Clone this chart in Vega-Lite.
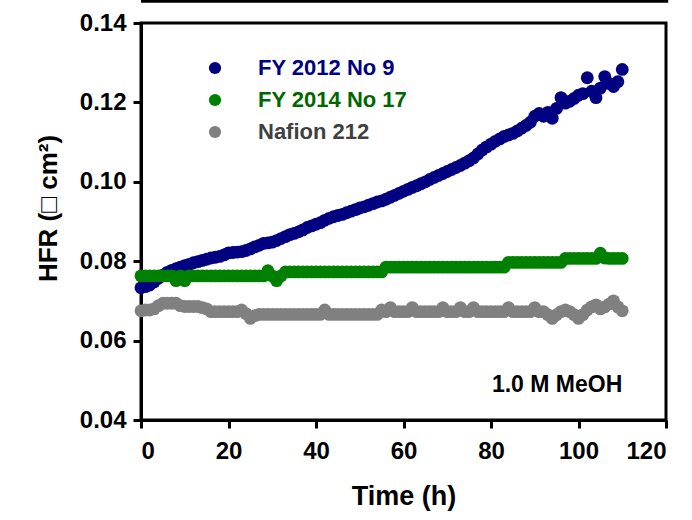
{
  "$schema": "https://vega.github.io/schema/vega-lite/v6.json",
  "width": 525,
  "height": 397,
  "autosize": {"type": "none"},
  "padding": {"left": 141, "top": 23, "right": 26, "bottom": 100},
  "background": "white",
  "config": {
    "font": "Liberation Sans",
    "view": {"stroke": "black", "strokeWidth": 3},
    "axis": {
      "grid": false,
      "domainColor": "black",
      "domainWidth": 3,
      "tickColor": "black",
      "tickWidth": 3,
      "tickSize": 8,
      "labelFont": "Liberation Sans",
      "labelFontSize": 24,
      "labelFontWeight": "bold",
      "labelColor": "black",
      "titleFont": "Liberation Sans",
      "titleFontSize": 26,
      "titleFontWeight": "bold",
      "titleColor": "black"
    }
  },
  "data": {
    "values": [
      {"t": 0, "FY 2012 No 9": 0.0733, "FY 2014 No 17": 0.0763, "Nafion 212": 0.0675},
      {"t": 1, "FY 2012 No 9": 0.0736, "FY 2014 No 17": 0.0763, "Nafion 212": 0.0677},
      {"t": 2, "FY 2012 No 9": 0.0740, "FY 2014 No 17": 0.0763, "Nafion 212": 0.0677},
      {"t": 3, "FY 2012 No 9": 0.0748, "FY 2014 No 17": 0.0763, "Nafion 212": 0.0680},
      {"t": 4, "FY 2012 No 9": 0.0757, "FY 2014 No 17": 0.0763, "Nafion 212": 0.0688},
      {"t": 5, "FY 2012 No 9": 0.0765, "FY 2014 No 17": 0.0763, "Nafion 212": 0.0694},
      {"t": 6, "FY 2012 No 9": 0.0772, "FY 2014 No 17": 0.0763, "Nafion 212": 0.0694},
      {"t": 7, "FY 2012 No 9": 0.0777, "FY 2014 No 17": 0.0763, "Nafion 212": 0.0694},
      {"t": 8, "FY 2012 No 9": 0.0781, "FY 2014 No 17": 0.0751, "Nafion 212": 0.0694},
      {"t": 9, "FY 2012 No 9": 0.0785, "FY 2014 No 17": 0.0763, "Nafion 212": 0.0688},
      {"t": 10, "FY 2012 No 9": 0.0789, "FY 2014 No 17": 0.0751, "Nafion 212": 0.0686},
      {"t": 11, "FY 2012 No 9": 0.0792, "FY 2014 No 17": 0.0763, "Nafion 212": 0.0686},
      {"t": 12, "FY 2012 No 9": 0.0796, "FY 2014 No 17": 0.0763, "Nafion 212": 0.0686},
      {"t": 13, "FY 2012 No 9": 0.0799, "FY 2014 No 17": 0.0763, "Nafion 212": 0.0686},
      {"t": 14, "FY 2012 No 9": 0.0802, "FY 2014 No 17": 0.0763, "Nafion 212": 0.0683},
      {"t": 15, "FY 2012 No 9": 0.0805, "FY 2014 No 17": 0.0763, "Nafion 212": 0.0680},
      {"t": 16, "FY 2012 No 9": 0.0808, "FY 2014 No 17": 0.0763, "Nafion 212": 0.0673},
      {"t": 17, "FY 2012 No 9": 0.0810, "FY 2014 No 17": 0.0763, "Nafion 212": 0.0673},
      {"t": 18, "FY 2012 No 9": 0.0812, "FY 2014 No 17": 0.0763, "Nafion 212": 0.0673},
      {"t": 19, "FY 2012 No 9": 0.0816, "FY 2014 No 17": 0.0763, "Nafion 212": 0.0673},
      {"t": 20, "FY 2012 No 9": 0.0821, "FY 2014 No 17": 0.0763, "Nafion 212": 0.0673},
      {"t": 21, "FY 2012 No 9": 0.0822, "FY 2014 No 17": 0.0763, "Nafion 212": 0.0673},
      {"t": 22, "FY 2012 No 9": 0.0823, "FY 2014 No 17": 0.0763, "Nafion 212": 0.0673},
      {"t": 23, "FY 2012 No 9": 0.0824, "FY 2014 No 17": 0.0763, "Nafion 212": 0.0677},
      {"t": 24, "FY 2012 No 9": 0.0827, "FY 2014 No 17": 0.0763, "Nafion 212": 0.0668},
      {"t": 25, "FY 2012 No 9": 0.0831, "FY 2014 No 17": 0.0763, "Nafion 212": 0.0656},
      {"t": 26, "FY 2012 No 9": 0.0836, "FY 2014 No 17": 0.0763, "Nafion 212": 0.0663},
      {"t": 27, "FY 2012 No 9": 0.0840, "FY 2014 No 17": 0.0763, "Nafion 212": 0.0666},
      {"t": 28, "FY 2012 No 9": 0.0845, "FY 2014 No 17": 0.0763, "Nafion 212": 0.0666},
      {"t": 29, "FY 2012 No 9": 0.0846, "FY 2014 No 17": 0.0776, "Nafion 212": 0.0666},
      {"t": 30, "FY 2012 No 9": 0.0848, "FY 2014 No 17": 0.0763, "Nafion 212": 0.0666},
      {"t": 31, "FY 2012 No 9": 0.0852, "FY 2014 No 17": 0.0751, "Nafion 212": 0.0666},
      {"t": 32, "FY 2012 No 9": 0.0857, "FY 2014 No 17": 0.0763, "Nafion 212": 0.0666},
      {"t": 33, "FY 2012 No 9": 0.0862, "FY 2014 No 17": 0.0773, "Nafion 212": 0.0666},
      {"t": 34, "FY 2012 No 9": 0.0867, "FY 2014 No 17": 0.0773, "Nafion 212": 0.0666},
      {"t": 35, "FY 2012 No 9": 0.0870, "FY 2014 No 17": 0.0773, "Nafion 212": 0.0666},
      {"t": 36, "FY 2012 No 9": 0.0874, "FY 2014 No 17": 0.0773, "Nafion 212": 0.0666},
      {"t": 37, "FY 2012 No 9": 0.0879, "FY 2014 No 17": 0.0773, "Nafion 212": 0.0666},
      {"t": 38, "FY 2012 No 9": 0.0885, "FY 2014 No 17": 0.0773, "Nafion 212": 0.0666},
      {"t": 39, "FY 2012 No 9": 0.0889, "FY 2014 No 17": 0.0773, "Nafion 212": 0.0666},
      {"t": 40, "FY 2012 No 9": 0.0893, "FY 2014 No 17": 0.0773, "Nafion 212": 0.0666},
      {"t": 41, "FY 2012 No 9": 0.0897, "FY 2014 No 17": 0.0773, "Nafion 212": 0.0666},
      {"t": 42, "FY 2012 No 9": 0.0903, "FY 2014 No 17": 0.0773, "Nafion 212": 0.0677},
      {"t": 43, "FY 2012 No 9": 0.0908, "FY 2014 No 17": 0.0773, "Nafion 212": 0.0666},
      {"t": 44, "FY 2012 No 9": 0.0912, "FY 2014 No 17": 0.0773, "Nafion 212": 0.0666},
      {"t": 45, "FY 2012 No 9": 0.0915, "FY 2014 No 17": 0.0773, "Nafion 212": 0.0666},
      {"t": 46, "FY 2012 No 9": 0.0918, "FY 2014 No 17": 0.0773, "Nafion 212": 0.0666},
      {"t": 47, "FY 2012 No 9": 0.0922, "FY 2014 No 17": 0.0773, "Nafion 212": 0.0666},
      {"t": 48, "FY 2012 No 9": 0.0926, "FY 2014 No 17": 0.0773, "Nafion 212": 0.0666},
      {"t": 49, "FY 2012 No 9": 0.0930, "FY 2014 No 17": 0.0773, "Nafion 212": 0.0666},
      {"t": 50, "FY 2012 No 9": 0.0934, "FY 2014 No 17": 0.0773, "Nafion 212": 0.0666},
      {"t": 51, "FY 2012 No 9": 0.0937, "FY 2014 No 17": 0.0773, "Nafion 212": 0.0666},
      {"t": 52, "FY 2012 No 9": 0.0941, "FY 2014 No 17": 0.0773, "Nafion 212": 0.0666},
      {"t": 53, "FY 2012 No 9": 0.0945, "FY 2014 No 17": 0.0773, "Nafion 212": 0.0666},
      {"t": 54, "FY 2012 No 9": 0.0949, "FY 2014 No 17": 0.0773, "Nafion 212": 0.0666},
      {"t": 55, "FY 2012 No 9": 0.0952, "FY 2014 No 17": 0.0773, "Nafion 212": 0.0677},
      {"t": 56, "FY 2012 No 9": 0.0956, "FY 2014 No 17": 0.0785, "Nafion 212": 0.0673},
      {"t": 57, "FY 2012 No 9": 0.0961, "FY 2014 No 17": 0.0785, "Nafion 212": 0.0683},
      {"t": 58, "FY 2012 No 9": 0.0966, "FY 2014 No 17": 0.0785, "Nafion 212": 0.0673},
      {"t": 59, "FY 2012 No 9": 0.0971, "FY 2014 No 17": 0.0785, "Nafion 212": 0.0673},
      {"t": 60, "FY 2012 No 9": 0.0976, "FY 2014 No 17": 0.0785, "Nafion 212": 0.0673},
      {"t": 61, "FY 2012 No 9": 0.0981, "FY 2014 No 17": 0.0785, "Nafion 212": 0.0673},
      {"t": 62, "FY 2012 No 9": 0.0986, "FY 2014 No 17": 0.0785, "Nafion 212": 0.0683},
      {"t": 63, "FY 2012 No 9": 0.0990, "FY 2014 No 17": 0.0785, "Nafion 212": 0.0673},
      {"t": 64, "FY 2012 No 9": 0.0995, "FY 2014 No 17": 0.0785, "Nafion 212": 0.0673},
      {"t": 65, "FY 2012 No 9": 0.1000, "FY 2014 No 17": 0.0785, "Nafion 212": 0.0673},
      {"t": 66, "FY 2012 No 9": 0.1006, "FY 2014 No 17": 0.0785, "Nafion 212": 0.0673},
      {"t": 67, "FY 2012 No 9": 0.1011, "FY 2014 No 17": 0.0785, "Nafion 212": 0.0673},
      {"t": 68, "FY 2012 No 9": 0.1016, "FY 2014 No 17": 0.0785, "Nafion 212": 0.0673},
      {"t": 69, "FY 2012 No 9": 0.1021, "FY 2014 No 17": 0.0785, "Nafion 212": 0.0683},
      {"t": 70, "FY 2012 No 9": 0.1026, "FY 2014 No 17": 0.0785, "Nafion 212": 0.0673},
      {"t": 71, "FY 2012 No 9": 0.1031, "FY 2014 No 17": 0.0785, "Nafion 212": 0.0673},
      {"t": 72, "FY 2012 No 9": 0.1036, "FY 2014 No 17": 0.0785, "Nafion 212": 0.0673},
      {"t": 73, "FY 2012 No 9": 0.1041, "FY 2014 No 17": 0.0785, "Nafion 212": 0.0683},
      {"t": 74, "FY 2012 No 9": 0.1047, "FY 2014 No 17": 0.0785, "Nafion 212": 0.0673},
      {"t": 75, "FY 2012 No 9": 0.1053, "FY 2014 No 17": 0.0785, "Nafion 212": 0.0673},
      {"t": 76, "FY 2012 No 9": 0.1060, "FY 2014 No 17": 0.0785, "Nafion 212": 0.0683},
      {"t": 77, "FY 2012 No 9": 0.1070, "FY 2014 No 17": 0.0785, "Nafion 212": 0.0673},
      {"t": 78, "FY 2012 No 9": 0.1080, "FY 2014 No 17": 0.0785, "Nafion 212": 0.0673},
      {"t": 79, "FY 2012 No 9": 0.1088, "FY 2014 No 17": 0.0785, "Nafion 212": 0.0673},
      {"t": 80, "FY 2012 No 9": 0.1095, "FY 2014 No 17": 0.0785, "Nafion 212": 0.0673},
      {"t": 81, "FY 2012 No 9": 0.1102, "FY 2014 No 17": 0.0785, "Nafion 212": 0.0673},
      {"t": 82, "FY 2012 No 9": 0.1108, "FY 2014 No 17": 0.0785, "Nafion 212": 0.0673},
      {"t": 83, "FY 2012 No 9": 0.1114, "FY 2014 No 17": 0.0785, "Nafion 212": 0.0673},
      {"t": 84, "FY 2012 No 9": 0.1118, "FY 2014 No 17": 0.0797, "Nafion 212": 0.0683},
      {"t": 85, "FY 2012 No 9": 0.1122, "FY 2014 No 17": 0.0797, "Nafion 212": 0.0673},
      {"t": 86, "FY 2012 No 9": 0.1128, "FY 2014 No 17": 0.0797, "Nafion 212": 0.0673},
      {"t": 87, "FY 2012 No 9": 0.1135, "FY 2014 No 17": 0.0797, "Nafion 212": 0.0673},
      {"t": 88, "FY 2012 No 9": 0.1142, "FY 2014 No 17": 0.0797, "Nafion 212": 0.0673},
      {"t": 89, "FY 2012 No 9": 0.1150, "FY 2014 No 17": 0.0797, "Nafion 212": 0.0673},
      {"t": 90, "FY 2012 No 9": 0.1165, "FY 2014 No 17": 0.0797, "Nafion 212": 0.0683},
      {"t": 91, "FY 2012 No 9": 0.1172, "FY 2014 No 17": 0.0797, "Nafion 212": 0.0673},
      {"t": 92, "FY 2012 No 9": 0.1165, "FY 2014 No 17": 0.0797, "Nafion 212": 0.0673},
      {"t": 93, "FY 2012 No 9": 0.1175, "FY 2014 No 17": 0.0797, "Nafion 212": 0.0665},
      {"t": 94, "FY 2012 No 9": 0.1160, "FY 2014 No 17": 0.0797, "Nafion 212": 0.0656},
      {"t": 95, "FY 2012 No 9": 0.1185, "FY 2014 No 17": 0.0797, "Nafion 212": 0.0665},
      {"t": 96, "FY 2012 No 9": 0.1212, "FY 2014 No 17": 0.0797, "Nafion 212": 0.0673},
      {"t": 97, "FY 2012 No 9": 0.1198, "FY 2014 No 17": 0.0807, "Nafion 212": 0.0677},
      {"t": 98, "FY 2012 No 9": 0.1203, "FY 2014 No 17": 0.0807, "Nafion 212": 0.0673},
      {"t": 99, "FY 2012 No 9": 0.1210, "FY 2014 No 17": 0.0807, "Nafion 212": 0.0665},
      {"t": 100, "FY 2012 No 9": 0.1218, "FY 2014 No 17": 0.0807, "Nafion 212": 0.0656},
      {"t": 101, "FY 2012 No 9": 0.1222, "FY 2014 No 17": 0.0807, "Nafion 212": 0.0665},
      {"t": 102, "FY 2012 No 9": 0.1262, "FY 2014 No 17": 0.0807, "Nafion 212": 0.0677},
      {"t": 103, "FY 2012 No 9": 0.1228, "FY 2014 No 17": 0.0807, "Nafion 212": 0.0685},
      {"t": 104, "FY 2012 No 9": 0.1212, "FY 2014 No 17": 0.0807, "Nafion 212": 0.0690},
      {"t": 105, "FY 2012 No 9": 0.1236, "FY 2014 No 17": 0.0820, "Nafion 212": 0.0680},
      {"t": 106, "FY 2012 No 9": 0.1265, "FY 2014 No 17": 0.0808, "Nafion 212": 0.0685},
      {"t": 107, "FY 2012 No 9": 0.1248, "FY 2014 No 17": 0.0807, "Nafion 212": 0.0692},
      {"t": 108, "FY 2012 No 9": 0.1240, "FY 2014 No 17": 0.0807, "Nafion 212": 0.0700},
      {"t": 109, "FY 2012 No 9": 0.1252, "FY 2014 No 17": 0.0807, "Nafion 212": 0.0685},
      {"t": 110, "FY 2012 No 9": 0.1283, "FY 2014 No 17": 0.0807, "Nafion 212": 0.0675}
    ]
  },
  "layer": [
    {
      "transform": [
        {"fold": ["FY 2012 No 9", "FY 2014 No 17", "Nafion 212"], "as": ["series", "hfr"]}
      ],
      "mark": {"type": "circle", "size": 165, "opacity": 1},
      "encoding": {
        "x": {
          "field": "t",
          "type": "quantitative",
          "scale": {"domain": [0, 120], "nice": false},
          "axis": {"title": "Time (h)", "values": [0, 20, 40, 60, 80, 100, 120], "labelPadding": 11, "titlePadding": 20, "titleFontSize": 27}
        },
        "y": {
          "field": "hfr",
          "type": "quantitative",
          "scale": {"domain": [0.04, 0.14], "nice": false, "zero": false},
          "axis": {"title": "HFR (□ cm²)", "format": ".2f", "values": [0.04, 0.06, 0.08, 0.1, 0.12, 0.14], "labelPadding": 7, "titlePadding": 18, "titleY": 185}
        },
        "color": {
          "field": "series",
          "type": "nominal",
          "scale": {"domain": ["FY 2012 No 9", "FY 2014 No 17", "Nafion 212"], "range": ["#000080", "#008000", "#808080"]},
          "legend": {
            "orient": "none",
            "legendX": 63,
            "legendY": 34,
            "title": null,
            "padding": 0,
            "symbolType": "circle",
            "symbolSize": 150,
            "symbolOpacity": 1,
            "labelFont": "Liberation Sans",
            "labelFontSize": 22,
            "labelFontWeight": "bold",
            "labelOffset": 32,
            "rowPadding": 10,
            "encode": {
              "labels": {
                "update": {
                  "fill": {"signal": "datum.value === 'FY 2012 No 9' ? '#000080' : datum.value === 'FY 2014 No 17' ? '#006600' : '#404040'"}
                }
              }
            }
          }
        },
        "order": {"field": "series"}
      }
    },
    {
      "data": {"values": [{}]},
      "mark": {"type": "text", "align": "right", "baseline": "middle", "font": "Liberation Sans", "fontSize": 23, "fontWeight": "bold", "color": "black"},
      "encoding": {
        "x": {"datum": 110, "type": "quantitative"},
        "y": {"datum": 0.0488, "type": "quantitative"},
        "text": {"value": "1.0 M MeOH"}
      }
    },
    {
      "data": {"values": [{}]},
      "mark": {"type": "rule", "clip": false, "strokeWidth": 3, "color": "black"},
      "encoding": {
        "x": {"datum": 0, "type": "quantitative"},
        "x2": {"datum": 120.5},
        "y": {"datum": 0.1455, "type": "quantitative"}
      }
    }
  ]
}
